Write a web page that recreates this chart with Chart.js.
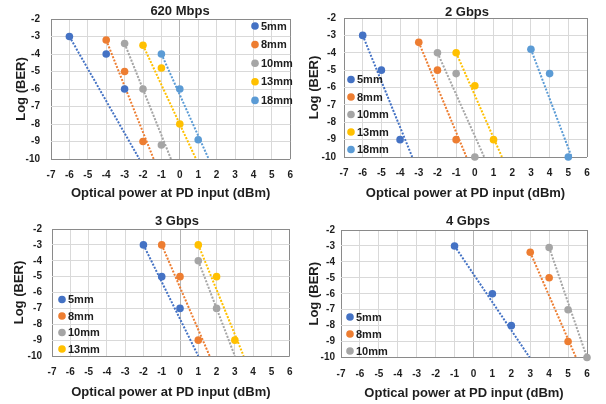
<!DOCTYPE html>
<html>
<head>
<meta charset="utf-8">
<title>BER vs optical power</title>
<script src="https://cdn.jsdelivr.net/npm/chart.js@4.4.1/dist/chart.umd.min.js"></script>
<style>
  html, body { margin: 0; padding: 0; background: #ffffff; }
  #wrap { position: relative; width: 606px; height: 404px; overflow: hidden; }
  #wrap canvas { position: absolute; }
</style>
</head>
<body>
<div id="wrap">
  <canvas id="c620" width="303" height="202" style="left:0;top:0"></canvas>
  <canvas id="c2g" width="303" height="202" style="left:303px;top:0"></canvas>
  <canvas id="c3g" width="303" height="202" style="left:0;top:202px"></canvas>
  <canvas id="c4g" width="303" height="202" style="left:303px;top:202px"></canvas>
</div>
<script>
// ---- data (x = optical power dBm, y = log BER) ----

// 620 Mbps
var p620Labels = ['5mm', '8mm', '10mm', '13mm', '18mm'];
var p620X = [[-6, -4, -3], [-4, -3, -2], [-3, -2, -1], [-2, -1, 0], [-1, 0, 1]];
var p620Y = [[-3, -4, -6], [-3.2, -5, -9], [-3.4, -6, -9.2], [-3.5, -4.8, -8], [-4, -6, -8.9]];
var p620TrendX = [[-6, -2.2], [-4, -1.42], [-3, -0.48], [-2, 0.88], [-1, 1.57]];
var p620TrendY = [[-3, -10], [-3.2, -10], [-3.4, -10], [-3.5, -10], [-4, -10]];

// 2 Gbps
var p2gLabels = ['5mm', '8mm', '10mm', '13mm', '18mm'];
var p2gX = [[-6, -5, -4], [-3, -2, -1], [-2, -1, 0], [-1, 0, 1], [3, 4, 5]];
var p2gY = [[-3, -5, -9], [-3.4, -5, -9], [-4, -5.2, -10], [-4, -5.9, -9], [-3.8, -5.2, -10]];
var p2gTrendX = [[-6, -3.35], [-3, -0.45], [-2, 0.5], [-1, 1.45], [3, 5.18]];
var p2gTrendY = [[-3, -10], [-3.4, -10], [-4, -10], [-4, -10], [-3.8, -10]];

// 3 Gbps
var p3gLabels = ['5mm', '8mm', '10mm', '13mm'];
var p3gX = [[-2, -1, 0], [-1, 0, 1], [1, 2], [1, 2, 3]];
var p3gY = [[-3, -5, -7], [-3, -5, -9], [-4, -7], [-3, -5, -9]];
var p3gTrendX = [[-2, 1], [-1, 1.62], [1, 3], [1, 3.48]];
var p3gTrendY = [[-3, -10], [-3, -10], [-4, -10], [-3, -10]];

// 4 Gbps
var p4gLabels = ['5mm', '8mm', '10mm'];
var p4gX = [[-1, 1, 2], [3, 4, 5], [4, 5, 6]];
var p4gY = [[-3, -6, -8], [-3.4, -5, -9], [-3.1, -7, -10]];
var p4gTrendX = [[-1, 2.97], [3, 5.42], [4, 6]];
var p4gTrendY = [[-3, -10], [-3.4, -10], [-3.1, -10]];

// axis ranges
var xMin = -7, xMax = 6;
var yMin = -10, yMax = -2;
var xTitle = 'Optical power at PD input (dBm)';
var yTitle = 'Log (BER)';

// Office palette
var seriesColors = ['#4472C4', '#ED7D31', '#A5A5A5', '#FFC000', '#5B9BD5'];

var FONT = "'Liberation Sans', Arial, sans-serif";
var TEXT = '#1e1e1e';
var GRID = '#d9d9d9';
var FRAME = '#8a8a8a';
var ZERO = '#b4b4b4';

// Title + in-plot legend, drawn on top of the chart
var panelDecor = {
  id: 'panelDecor',
  afterDraw: function(chart, args, o) {
    var ctx = chart.ctx;
    ctx.save();
    ctx.fillStyle = TEXT;
    ctx.font = 'bold 13px ' + FONT;
    ctx.textAlign = 'center';
    ctx.textBaseline = 'middle';
    ctx.fillText(o.title, o.titleX, o.titleY);

    ctx.font = 'bold 11px ' + FONT;
    ctx.textAlign = 'left';
    var n = 0;
    chart.data.datasets.forEach(function(ds) {
      if (ds.isTrend) return;
      var y = o.legendY + n * o.legendStep;
      ctx.beginPath();
      ctx.arc(o.legendX, y, 3.8, 0, Math.PI * 2);
      ctx.fillStyle = ds.backgroundColor;
      ctx.fill();
      ctx.fillStyle = TEXT;
      ctx.fillText(ds.label, o.legendX + 6, y + 0.5);
      n++;
    });
    ctx.restore();
  }
};

function makeDatasets(labels, xs, ys, tx, ty) {
  var sets = [];
  for (var i = 0; i < labels.length; i++) {
    var pts = [];
    for (var j = 0; j < xs[i].length; j++) pts.push({ x: xs[i][j], y: ys[i][j] });
    sets.push({
      label: labels[i],
      data: pts,
      backgroundColor: seriesColors[i],
      borderColor: seriesColors[i],
      pointRadius: 3.8,
      pointBorderWidth: 0,
      showLine: false,
      clip: false,
      order: 1
    });
  }
  for (var i = 0; i < labels.length; i++) {
    var tpts = [];
    for (var j = 0; j < tx[i].length; j++) tpts.push({ x: tx[i][j], y: ty[i][j] });
    sets.push({
      label: labels[i] + ' trend',
      isTrend: true,
      data: tpts,
      borderColor: seriesColors[i],
      backgroundColor: seriesColors[i],
      borderWidth: 2,
      borderDash: [2, 1.5],
      pointRadius: 0,
      showLine: true,
      order: 2
    });
  }
  return sets;
}

function gridColor(showZero, lo, hi) {
  return function(c) {
    var v = c.tick ? c.tick.value : null;
    if (v === lo || v === hi) return FRAME;
    if (showZero && v === 0) return ZERO;
    return GRID;
  };
}

function makePanel(id, datasets, L) {
  return new Chart(document.getElementById(id), {
    type: 'scatter',
    data: { datasets: datasets },
    plugins: [panelDecor],
    options: {
      responsive: false,
      animation: false,
      events: [],
      layout: { padding: { left: 0, top: L.top, right: L.right, bottom: L.bottom } },
      scales: {
        x: {
          type: 'linear',
          min: xMin, max: xMax,
          border: { display: false },
          grid: { color: gridColor(L.zeroLine, xMin, xMax), lineWidth: 1, drawTicks: false },
          ticks: { stepSize: 1, padding: L.xTickPad, color: TEXT, font: { family: FONT, size: 10, weight: 'bold' } },
          title: { display: true, text: xTitle, color: TEXT, padding: { top: 0, bottom: 0 }, font: { family: FONT, size: 13, weight: 'bold' } },
          afterFit: function(s) { s.height = L.xHeight; }
        },
        y: {
          type: 'linear',
          min: yMin, max: yMax,
          border: { display: false },
          grid: { color: gridColor(false, yMin, yMax), lineWidth: 1, drawTicks: false },
          ticks: { stepSize: 1, padding: L.yTickPad, color: TEXT, font: { family: FONT, size: 10, weight: 'bold' } },
          title: { display: true, text: yTitle, color: TEXT, padding: { top: L.yTitlePad, bottom: 0 }, font: { family: FONT, size: 13, weight: 'bold' } },
          afterFit: function(s) { s.width = L.yWidth; }
        }
      },
      plugins: {
        legend: { display: false },
        tooltip: { enabled: false },
        panelDecor: {
          title: L.title, titleX: L.titleX, titleY: L.titleY,
          legendX: L.legendX, legendY: L.legendY, legendStep: L.legendStep
        }
      }
    }
  });
}

makePanel('c620', makeDatasets(p620Labels, p620X, p620Y, p620TrendX, p620TrendY), {
  title: '620 Mbps', titleX: 180, titleY: 11,
  top: 19, right: 4, bottom: 1, yWidth: 51, xHeight: 42,
  yTickPad: 11, xTickPad: 10, yTitlePad: 14, zeroLine: true,
  legendX: 255, legendY: 26, legendStep: 18.6
});

makePanel('c2g', makeDatasets(p2gLabels, p2gX, p2gY, p2gTrendX, p2gTrendY), {
  title: '2 Gbps', titleX: 164, titleY: 12,
  top: 18, right: 19, bottom: 1, yWidth: 41, xHeight: 44,
  yTickPad: 8, xTickPad: 10, yTitlePad: 4, zeroLine: false,
  legendX: 48, legendY: 79.5, legendStep: 17.5
});

makePanel('c3g', makeDatasets(p3gLabels, p3gX, p3gY, p3gTrendX, p3gTrendY), {
  title: '3 Gbps', titleX: 177, titleY: 19,
  top: 27, right: 7, bottom: 3.5, yWidth: 52, xHeight: 44.5,
  yTickPad: 10, xTickPad: 10.5, yTitlePad: 12, zeroLine: true,
  legendX: 62, legendY: 97.5, legendStep: 16.5
});

makePanel('c4g', makeDatasets(p4gLabels, p4gX, p4gY, p4gTrendX, p4gTrendY), {
  title: '4 Gbps', titleX: 165, titleY: 19,
  top: 28, right: 19, bottom: 2.5, yWidth: 38, xHeight: 44,
  yTickPad: 6, xTickPad: 10.5, yTitlePad: 4, zeroLine: true,
  legendX: 47, legendY: 115, legendStep: 17
});
</script>
</body>
</html>
